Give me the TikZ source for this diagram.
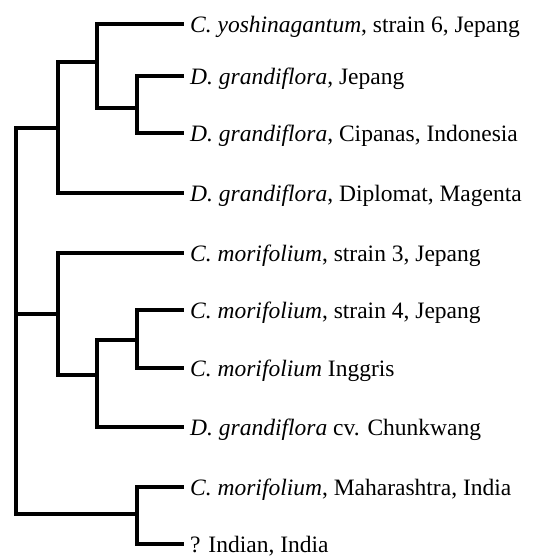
\documentclass[tikz,border=0pt]{standalone}
\usepackage{fontspec}
\setmainfont{Liberation Serif}
\begin{document}
\begin{tikzpicture}[x=1pt,y=-1pt,
  branch/.style={draw=black,line width=3.5pt,line join=miter,line cap=rect},
  leaf/.style={anchor=base west,inner sep=0pt,font=\fontsize{23.5}{28}\selectfont}]
\useasboundingbox (0,0) rectangle (537,558);
% leaf line ends
\coordinate (e1) at (182,24);
\coordinate (e2) at (182,76);
\coordinate (e3) at (182,133);
\coordinate (e4) at (182,193);
\coordinate (e5) at (182,253);
\coordinate (e6) at (182,310);
\coordinate (e7) at (182,368);
\coordinate (e8) at (182,427);
\coordinate (e9) at (182,487);
\coordinate (e10) at (182,544);
% labels
\node[leaf] (t1) at (190,32) {\textit{C. yoshinagantum}, strain 6, Jepang};
\node[leaf] (t2) at (190,84) {\textit{D. grandiflora}, Jepang};
\node[leaf] (t3) at (190,141) {\textit{D. grandiflora}, Cipanas, Indonesia};
\node[leaf] (t4) at (190,201) {\textit{D. grandiflora}, Diplomat, Magenta};
\node[leaf] (t5) at (190,261) {\textit{C. morifolium}, strain 3, Jepang};
\node[leaf] (t6) at (190,318) {\textit{C. morifolium}, strain 4, Jepang};
\node[leaf] (t7) at (190,376) {\textit{C. morifolium} Inggris};
\node[leaf] (t8) at (190,435) {\textit{D. grandiflora} cv. Chunkwang};
\node[leaf] (t9) at (190,495) {\textit{C. morifolium}, Maharashtra, India};
\node[leaf] (t10) at (190,552) {? Indian, India};
% internal nodes
\coordinate (n23) at (137,108);
\coordinate (n123) at (97,62);
\coordinate (n1234) at (58,128);
\coordinate (n67) at (137,340);
\coordinate (n678) at (97,375);
\coordinate (n5678) at (58,314);
\coordinate (n910) at (137,514);
\coordinate (root) at (16,128);
\coordinate (rootb) at (16,514);
% branches
\draw[branch] (n23) |- (e2);
\draw[branch] (n23) |- (e3);
\draw[branch] (n123) |- (e1);
\draw[branch] (n123) |- (n23);
\draw[branch] (n1234) |- (n123);
\draw[branch] (n1234) |- (e4);
\draw[branch] (n67) |- (e6);
\draw[branch] (n67) |- (e7);
\draw[branch] (n678) |- (n67);
\draw[branch] (n678) |- (e8);
\draw[branch] (n5678) |- (e5);
\draw[branch] (n5678) |- (n678);
\draw[branch] (n910) |- (e9);
\draw[branch] (n910) |- (e10);
\draw[branch] (root) -- (n1234);
\draw[branch] (root) |- (n5678);
\draw[branch] (root) -- (rootb) -- (n910);
\end{tikzpicture}
\end{document}
